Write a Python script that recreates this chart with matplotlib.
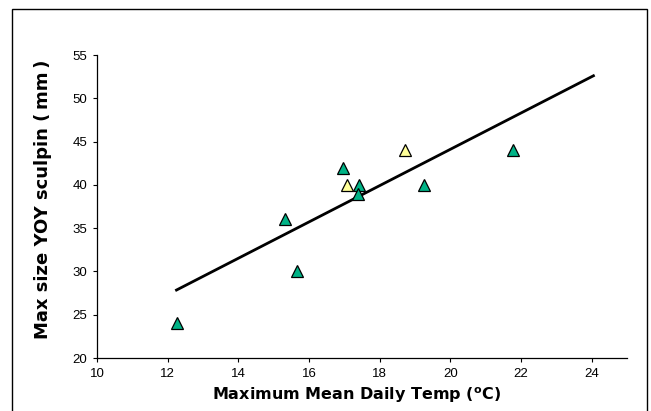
import matplotlib
matplotlib.use("Agg")
import matplotlib.pyplot as plt
from matplotlib.patches import Rectangle

# data
temp_green = [12.25, 15.33, 15.65, 16.95, 17.42, 17.40, 19.25, 21.78]
size_green = [24, 36, 30, 42, 40, 39, 40, 44]
temp_yellow = [17.07, 18.72]
size_yellow = [40, 44]

# regression line end points
fit_x = [12.25, 24.05]
fit_y = [27.85, 52.6]

x_ticks = [10, 12, 14, 16, 18, 20, 22, 24]
y_ticks = [20, 25, 30, 35, 40, 45, 50, 55]

fig = plt.figure(figsize=(6.51, 4.11), dpi=100)
ax = fig.add_axes([97 / 651, 1 - 358 / 411, 530 / 651, 303 / 411])

# outer frame around the whole chart
fig.patches.append(Rectangle((12 / 651, -0.02), 635 / 651, 1 - 9 / 411 + 0.02,
                             transform=fig.transFigure, fill=False,
                             edgecolor="black", linewidth=1.0))

ax.plot(fit_x, fit_y, color="black", linewidth=2.0, zorder=2)
ax.plot(temp_green, size_green, linestyle="none", marker="^", markersize=9,
        markerfacecolor="#00B386", markeredgecolor="black", markeredgewidth=0.9, zorder=3)
ax.plot(temp_yellow, size_yellow, linestyle="none", marker="^", markersize=9,
        markerfacecolor="#FFFF99", markeredgecolor="black", markeredgewidth=0.9, zorder=3)

ax.set_xlim(10, 25)
ax.set_ylim(20, 55)
ax.set_xticks(x_ticks)
ax.set_yticks(y_ticks)
ax.spines["top"].set_visible(False)
ax.spines["right"].set_visible(False)
for side in ["left", "bottom"]:
    ax.spines[side].set_linewidth(0.9)
ax.tick_params(direction="out", length=3, width=0.8, labelsize=9.5, pad=4)
for lbl in ax.get_xticklabels() + ax.get_yticklabels():
    lbl.set_family("Liberation Sans")

ax.set_xlabel(r"Maximum Mean Daily Temp ($^{\mathbf{o}}$C)", fontsize=11.5,
              fontweight="bold")
ax.set_ylabel("Max size YOY sculpin (\u2009mm\u2009)", fontsize=13, fontweight="bold")
ax.xaxis.set_label_coords(0.49, -0.09)
ax.yaxis.set_label_coords(-0.085, 0.525)

fig.savefig("out.png", dpi=100)
